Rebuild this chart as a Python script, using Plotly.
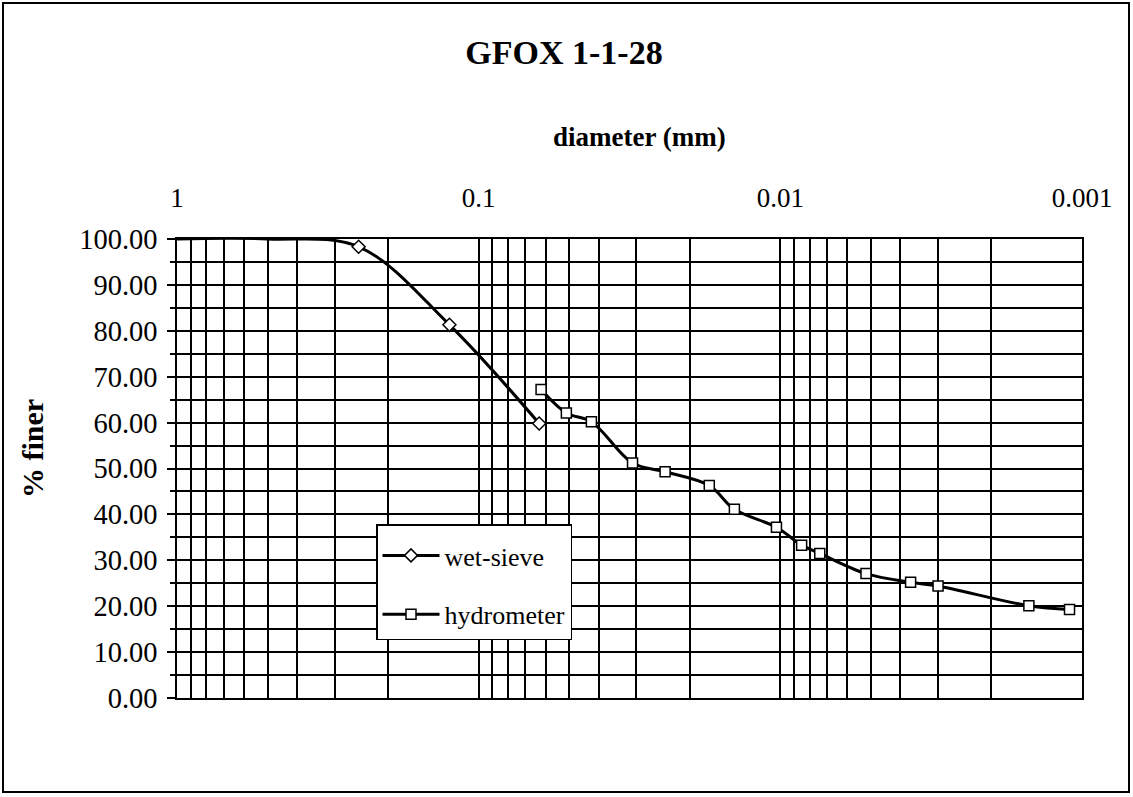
import plotly.graph_objects as go

# ---------------- data ----------------
wet_diam = [1.0, 0.5, 0.25, 0.125, 0.063]
wet_finer = [100.0, 100.0, 98.3, 81.3, 59.8]

hyd_diam = [0.0621, 0.0512, 0.0423, 0.0309, 0.0241, 0.0172, 0.0142, 0.0103,
            0.0085, 0.0074, 0.0052, 0.0037, 0.0030, 0.0015, 0.0011]
hyd_finer = [67.2, 62.1, 60.2, 51.2, 49.3, 46.3, 41.1, 37.2,
             33.3, 31.5, 27.1, 25.2, 24.4, 20.1, 19.3]

x_major = [1, 0.1, 0.01, 0.001]
x_major_labels = ["1", "0.1", "0.01", "0.001"]

# ---------------- layout geometry ----------------
W, H = 1133, 797
L, R, T, B = 177, 51, 239, 99
PW, PH = W - L - R, H - T - B


def px(xp):
    return (xp - L) / PW


def py(yp):
    return (H - B - yp) / PH


FONT = "Liberation Serif"

# grid positions for the log axis: 1..9 multiples of each decade
tickvals, ticktext = [], []
for i, dec in enumerate(x_major):
    if dec == 1:
        tickvals.append(1.0)
        ticktext.append(x_major_labels[i])
        continue
    for m in range(1, 10):
        tickvals.append(round(m * dec, 6))
        ticktext.append(x_major_labels[i] if m == 1 else "")

LINE = dict(color="black", width=3, shape="spline", smoothing=1)
DIAMOND = dict(symbol="diamond", size=10, color="white",
               line=dict(color="black", width=1.5))
SQUARE = dict(symbol="square", size=10, color="white",
              line=dict(color="black", width=1.5))

# markers on the 100 % plateau are not drawn in the reference
wet_mx = [d for d, v in zip(wet_diam, wet_finer) if v < 100]
wet_my = [v for v in wet_finer if v < 100]

fig = go.Figure()

fig.add_trace(go.Scatter(
    x=wet_diam, y=wet_finer, name="wet-sieve", mode="lines", line=LINE,
    cliponaxis=False, showlegend=False, legendgroup="a", hoverinfo="skip",
))
fig.add_trace(go.Scatter(
    x=wet_mx, y=wet_my, name="wet-sieve", mode="markers", marker=DIAMOND,
    cliponaxis=False, showlegend=False, legendgroup="a",
))
fig.add_trace(go.Scatter(
    x=[None], y=[None], name="wet-sieve", mode="lines+markers",
    line=LINE, marker=DIAMOND, legendgroup="a", showlegend=True,
))
fig.add_trace(go.Scatter(
    x=hyd_diam, y=hyd_finer, name="hydrometer", mode="lines+markers",
    line=LINE, marker=SQUARE, cliponaxis=False, legendgroup="b",
))

fig.update_layout(
    width=W, height=H, autosize=False,
    margin=dict(l=L, r=R, t=T, b=B),
    paper_bgcolor="white", plot_bgcolor="white",
    font=dict(family=FONT, color="black", size=26),
    title=dict(text="<b>GFOX 1-1-28</b>", x=564 / W, y=1 - 52 / H,
               xref="container", yref="container",
               xanchor="center", yanchor="middle",
               font=dict(family=FONT, size=34, color="black")),
    xaxis=dict(
        type="log", range=[0, -3], side="top",
        tickmode="array", tickvals=tickvals, ticktext=ticktext,
        ticks="", ticklabelstandoff=19,
        showgrid=True, gridcolor="black", gridwidth=1.5,
        showline=True, mirror=True, linecolor="black", linewidth=1.5,
        zeroline=False, tickfont=dict(family=FONT, size=27),
    ),
    yaxis=dict(
        range=[0, 100], tick0=0, dtick=10, tickformat=".2f",
        ticks="outside", ticklen=8, tickcolor="black", tickwidth=1.5,
        ticklabelstandoff=4,
        showgrid=True, gridcolor="black", gridwidth=1.5,
        minor=dict(dtick=5, showgrid=True, gridcolor="black", gridwidth=1.5,
                   ticks="outside", ticklen=5, tickcolor="black"),
        showline=True, mirror=True, linecolor="black", linewidth=1.5,
        zeroline=False, tickfont=dict(family=FONT, size=28.5),
    ),
    legend=dict(
        x=px(376), y=py(524), xanchor="left", yanchor="top",
        bgcolor="white", bordercolor="black", borderwidth=1.5,
        font=dict(family=FONT, size=26), tracegroupgap=22,
        traceorder="grouped", itemwidth=57,
        title=dict(text=" ", font=dict(size=5)),
    ),
    annotations=[
        dict(text="<b>diameter (mm)</b>", xref="paper", yref="paper",
             x=px(639), y=py(137), xanchor="center", yanchor="middle",
             showarrow=False, font=dict(family=FONT, size=27)),
        dict(text="<b>% finer</b>", xref="paper", yref="paper",
             x=px(32), y=py(449), xanchor="center", yanchor="middle",
             textangle=-90, showarrow=False,
             font=dict(family=FONT, size=30)),
    ],
    shapes=[
        dict(type="rect", xref="paper", yref="paper",
             x0=px(3), x1=px(1129), y0=py(792), y1=py(3),
             line=dict(color="black", width=2), fillcolor="rgba(0,0,0,0)",
             layer="below"),
    ],
)

fig.write_html("out.html")
